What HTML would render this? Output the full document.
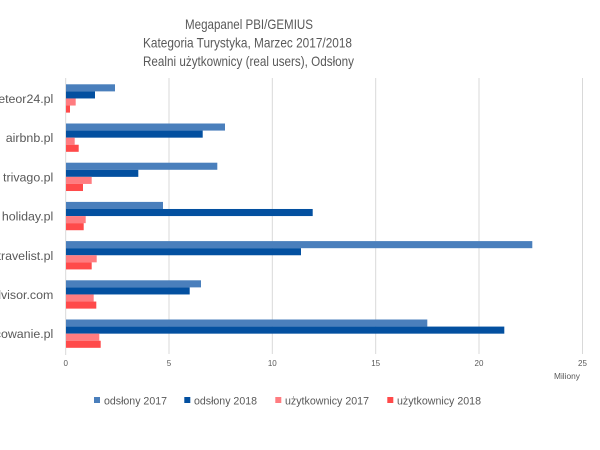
<!DOCTYPE html>
<html>
<head>
<meta charset="utf-8">
<style>
html,body{margin:0;padding:0;background:#fff;}
svg{display:block;}
text{font-family:"Liberation Sans",sans-serif;fill:#595959;}
</style>
</head>
<body>
<svg width="600" height="450" viewBox="0 0 600 450" xmlns="http://www.w3.org/2000/svg">
<rect width="600" height="450" fill="#fff"/>
<!-- Title -->
<text x="249" y="29" font-size="14" text-anchor="middle" textLength="128" lengthAdjust="spacingAndGlyphs">Megapanel PBI/GEMIUS</text>
<text x="247.5" y="47.5" font-size="14" text-anchor="middle" textLength="209" lengthAdjust="spacingAndGlyphs">Kategoria Turystyka, Marzec 2017/2018</text>
<text x="248.5" y="66" font-size="14" text-anchor="middle" textLength="211" lengthAdjust="spacingAndGlyphs">Realni użytkownicy (real users), Odsłony</text>

<!-- gridlines -->
<g stroke="#d9d9d9" stroke-width="1">
<line x1="169" y1="78" x2="169" y2="354"/>
<line x1="272.3" y1="78" x2="272.3" y2="354"/>
<line x1="375.7" y1="78" x2="375.7" y2="354"/>
<line x1="479" y1="78" x2="479" y2="354"/>
<line x1="582.5" y1="78" x2="582.5" y2="354"/>
</g>
<line x1="65.7" y1="78" x2="65.7" y2="355" stroke="#d9d9d9" stroke-width="1"/>

<!-- bars: group top = 84.3 + 39.2*i, bar h 7.08 -->
<g>
<!-- meteor24 -->
<rect x="66" y="84.3" width="49" height="7.08" fill="#4a7fbc"/>
<rect x="66" y="91.38" width="29" height="7.08" fill="#0350a0"/>
<rect x="66" y="98.46" width="9.7" height="7.08" fill="#ff7c80"/>
<rect x="66" y="105.54" width="4" height="7.08" fill="#ff4a4a"/>
<!-- airbnb -->
<rect x="66" y="123.5" width="159" height="7.08" fill="#4a7fbc"/>
<rect x="66" y="130.58" width="136.7" height="7.08" fill="#0350a0"/>
<rect x="66" y="137.66" width="8.7" height="7.08" fill="#ff7c80"/>
<rect x="66" y="144.74" width="12.7" height="7.08" fill="#ff4a4a"/>
<!-- trivago -->
<rect x="66" y="162.7" width="151.3" height="7.08" fill="#4a7fbc"/>
<rect x="66" y="169.78" width="72.3" height="7.08" fill="#0350a0"/>
<rect x="66" y="176.86" width="25.7" height="7.08" fill="#ff7c80"/>
<rect x="66" y="183.94" width="17" height="7.08" fill="#ff4a4a"/>
<!-- holiday -->
<rect x="66" y="201.9" width="97" height="7.08" fill="#4a7fbc"/>
<rect x="66" y="208.98" width="246.7" height="7.08" fill="#0350a0"/>
<rect x="66" y="216.06" width="19.7" height="7.08" fill="#ff7c80"/>
<rect x="66" y="223.14" width="17.7" height="7.08" fill="#ff4a4a"/>
<!-- travelist -->
<rect x="66" y="241.1" width="466.3" height="7.08" fill="#4a7fbc"/>
<rect x="66" y="248.18" width="235" height="7.08" fill="#0350a0"/>
<rect x="66" y="255.26" width="30.7" height="7.08" fill="#ff7c80"/>
<rect x="66" y="262.34" width="25.7" height="7.08" fill="#ff4a4a"/>
<!-- tripadvisor -->
<rect x="66" y="280.3" width="135" height="7.08" fill="#4a7fbc"/>
<rect x="66" y="287.38" width="123.7" height="7.08" fill="#0350a0"/>
<rect x="66" y="294.46" width="27.7" height="7.08" fill="#ff7c80"/>
<rect x="66" y="301.54" width="30.3" height="7.08" fill="#ff4a4a"/>
<!-- nocowanie -->
<rect x="66" y="319.5" width="361.3" height="7.08" fill="#4a7fbc"/>
<rect x="66" y="326.58" width="438.3" height="7.08" fill="#0350a0"/>
<rect x="66" y="333.66" width="33.3" height="7.08" fill="#ff7c80"/>
<rect x="66" y="340.74" width="34.7" height="7.08" fill="#ff4a4a"/>
</g>

<!-- category labels -->
<g font-size="12.4" text-anchor="end">
<text x="53.3" y="103">meteor24.pl</text>
<text x="53.3" y="142.2">airbnb.pl</text>
<text x="53.3" y="181.4">trivago.pl</text>
<text x="53.3" y="220.6">holiday.pl</text>
<text x="53.3" y="259.8">travelist.pl</text>
<text x="53.3" y="299">tripadvisor.com</text>
<text x="53.3" y="338.2">nocowanie.pl</text>
</g>

<!-- tick labels -->
<g font-size="8" text-anchor="middle">
<text x="65.7" y="366">0</text>
<text x="169" y="366">5</text>
<text x="272.3" y="366">10</text>
<text x="375.7" y="366">15</text>
<text x="479" y="366">20</text>
<text x="582.5" y="366">25</text>
</g>
<text x="554" y="379" font-size="8" textLength="26" lengthAdjust="spacingAndGlyphs">Miliony</text>

<!-- legend -->
<rect x="94" y="397" width="6" height="6" fill="#4a7fbc"/>
<text x="104" y="404.5" font-size="11" textLength="63" lengthAdjust="spacingAndGlyphs">odsłony 2017</text>
<rect x="184.3" y="397" width="6" height="6" fill="#0350a0"/>
<text x="194" y="404.5" font-size="11" textLength="63" lengthAdjust="spacingAndGlyphs">odsłony 2018</text>
<rect x="275.3" y="397" width="6" height="6" fill="#ff7c80"/>
<text x="285" y="404.5" font-size="11" textLength="84" lengthAdjust="spacingAndGlyphs">użytkownicy 2017</text>
<rect x="387.3" y="397" width="6" height="6" fill="#ff4a4a"/>
<text x="397" y="404.5" font-size="11" textLength="84" lengthAdjust="spacingAndGlyphs">użytkownicy 2018</text>
</svg>
</body>
</html>
